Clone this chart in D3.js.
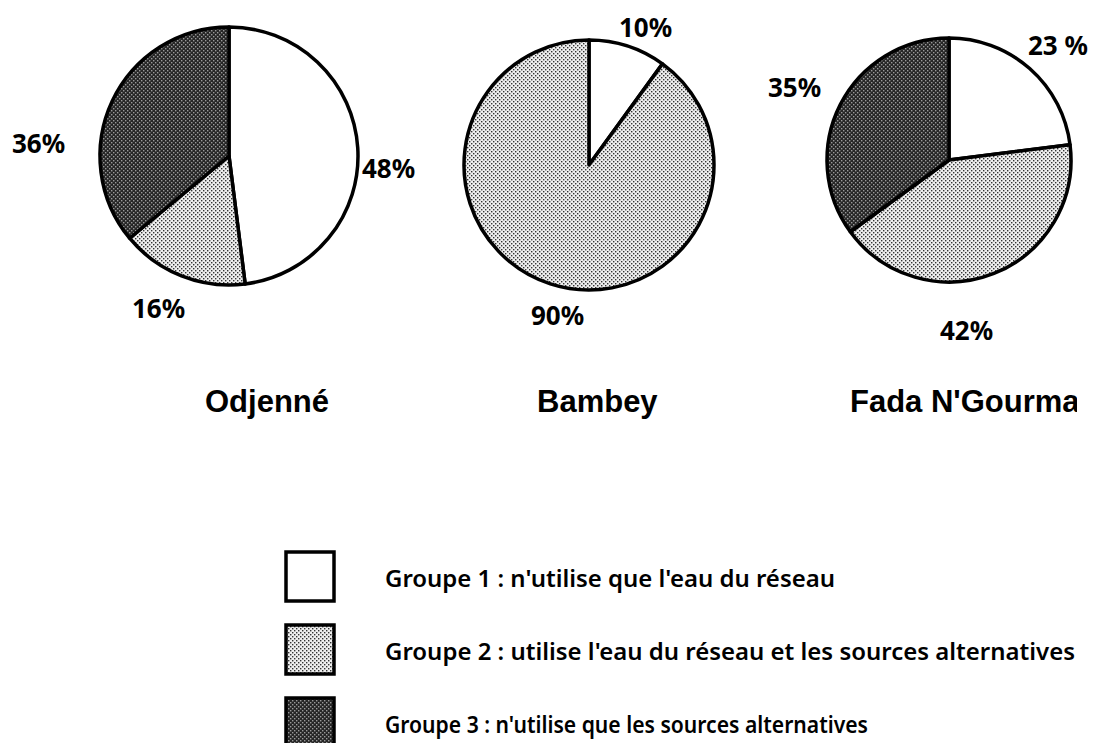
<!DOCTYPE html>
<html lang="fr">
<head>
<meta charset="UTF-8">
<title>Groupes d'usagers</title>
<script src="https://d3js.org/d3.v7.min.js"></script>
<style>
  body { margin: 0; background: #fff; }
  svg { display: block; }
  .pct { font-family: "Noto Sans", sans-serif; font-weight: 700; font-size: 26px; }
  .site { font-family: "Liberation Sans", Arial, sans-serif; font-weight: 700; font-size: 31px; }
  .leg { font-family: "Noto Sans", sans-serif; font-weight: 600; font-size: 24px; }
</style>
</head>
<body>
<svg id="chart" width="1097" height="743"></svg>
<script>
// data
const sites = ["Odjenné", "Bambey", "Fada N'Gourma"];
const groupNames = [
  "Groupe 1 : n'utilise que l'eau du réseau",
  "Groupe 2 : utilise l'eau du réseau et les sources alternatives",
  "Groupe 3 : n'utilise que les sources alternatives"
];
const group1 = [48, 10, 23];
const group2 = [16, 90, 42];
const group3 = [36, 0, 35];
const pctText = [["48%", "16%", "36%"], ["10%", "90%", ""], ["23 %", "42%", "35%"]];

// layout (not data)
const pieCy = [156, 165, 160];
const pieR = [129, 125, 122];
// label anchors relative to pie centre, one per group
const labelOffset = [
  [[133, 22], [-97, 162], [-217, -3]],
  [[30, -128], [-58, 160], [0, 0]],
  [[79, -105], [-9, 180], [-181, -63]]
];
const titleX = [205, 537, 850];
const titleY = 412;
const legendTextLen = [450, 690, 483];

const svg = d3.select("#chart");
const defs = svg.append("defs");

// dotted screens like the printed original
function screen(id, bg, dot) {
  const p = defs.append("pattern").attr("id", id)
    .attr("patternUnits", "userSpaceOnUse").attr("width", 4).attr("height", 4);
  p.append("rect").attr("width", 4).attr("height", 4).attr("fill", bg);
  p.append("rect").attr("x", 0).attr("y", 0).attr("width", 1.4).attr("height", 1.4).attr("fill", dot);
  p.append("rect").attr("x", 2).attr("y", 2).attr("width", 1.4).attr("height", 1.4).attr("fill", dot);
}
screen("light", "#eeeeee", "#333");
screen("dark", "#262626", "#999");

const fills = ["#fff", "url(#light)", "url(#dark)"];
const colour = d3.scaleOrdinal().domain([0, 1, 2]).range(fills);

defs.append("clipPath").attr("id", "cut")
  .append("rect").attr("x", 0).attr("y", 0).attr("width", 1077).attr("height", 743);

const cx = d3.scalePoint().domain(sites).range([229, 949]);
const pie = d3.pie().sort(null).value(d => d.v);

sites.forEach((site, i) => {
  const vals = [group1[i], group2[i], group3[i]].map((v, k) => ({ v, k }));
  const arc = d3.arc().innerRadius(0).outerRadius(pieR[i]);
  const g = svg.append("g").attr("transform", `translate(${cx(site)},${pieCy[i]})`);

  g.selectAll("path")
    .data(pie(vals).filter(d => d.data.v > 0))
    .join("path")
    .attr("d", arc)
    .attr("fill", d => colour(d.data.k))
    .attr("stroke", "#000")
    .attr("stroke-width", 3.5)
    .attr("stroke-linejoin", "round");

  g.selectAll("text.pct")
    .data(vals.filter(d => d.v > 0))
    .join("text")
    .attr("class", "pct")
    .attr("x", d => labelOffset[i][d.k][0])
    .attr("y", d => labelOffset[i][d.k][1])
    .text(d => pctText[i][d.k]);

  svg.append("text")
    .attr("class", "site")
    .attr("x", titleX[i])
    .attr("y", titleY)
    .attr("clip-path", "url(#cut)")
    .text(site);
});

// legend
const ly = d3.scalePoint().domain([0, 1, 2]).range([552, 698]);
const leg = svg.append("g");
groupNames.forEach((name, k) => {
  leg.append("rect")
    .attr("x", 286).attr("y", ly(k))
    .attr("width", 48).attr("height", 49)
    .attr("fill", colour(k))
    .attr("stroke", "#000").attr("stroke-width", 3.5);
  leg.append("text")
    .attr("class", "leg")
    .attr("x", 385).attr("y", ly(k) + 35)
    .attr("textLength", legendTextLen[k])
    .attr("lengthAdjust", "spacingAndGlyphs")
    .text(name);
});
</script>
</body>
</html>
